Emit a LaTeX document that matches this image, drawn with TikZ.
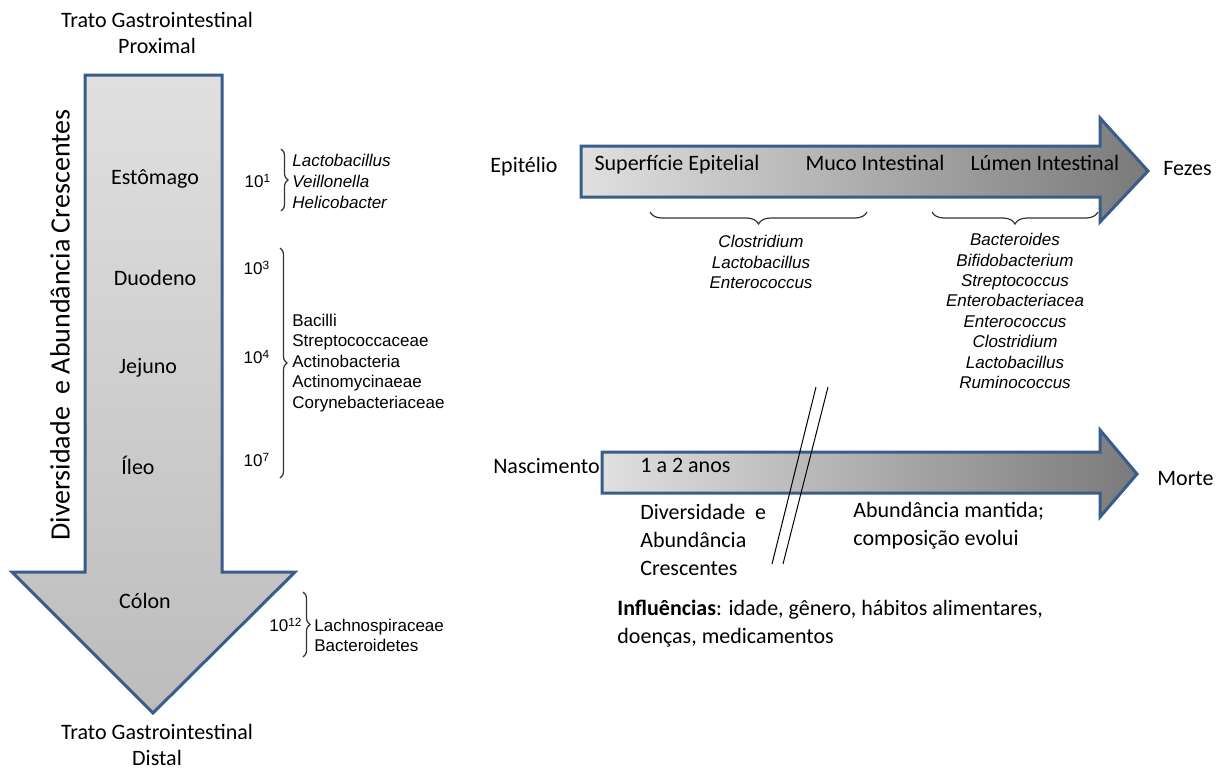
\documentclass[tikz,border=0pt]{standalone}
\usepackage{fontspec}
\setmainfont{Carlito}
\newfontfamily\taxfont{Liberation Sans}
\usetikzlibrary{decorations.pathreplacing, positioning}
\definecolor{arrowedge}{RGB}{56,93,138}
\definecolor{shadelight}{RGB}{224,224,224}
\definecolor{shademid}{RGB}{188,188,188}
\definecolor{shadedark}{RGB}{122,122,122}

\begin{document}
\begin{tikzpicture}[x=0.5pt, y=-0.5pt,
    txt/.style={font=\fontsize{11}{14}\selectfont, inner sep=0pt},
    taxon/.style={font=\taxfont\fontsize{8.5}{10.2}\selectfont\itshape, align=center, inner sep=0pt},
    group/.style={font=\taxfont\fontsize{8.5}{10.2}\selectfont, align=left, inner sep=0pt, anchor=west},
    power/.style={font=\taxfont\fontsize{8.5}{10}\selectfont, inner sep=0pt},
    bigarrow/.style={draw=arrowedge, line width=1.5pt},
    lbrace/.style={decorate, decoration={brace, amplitude=3.5pt}, line width=0.6pt, black!80},
    tbrace/.style={decorate, decoration={brace, amplitude=6pt}, line width=0.6pt, black!80},
    cut/.style={line width=0.5pt}
]
\useasboundingbox (0,0) rectangle (1227,771);

\draw[bigarrow, top color=shadelight, bottom color=shademid]
    (85,75) -- (222,75) -- (222,572) -- (295,572) -- (153,713) -- (12,572) -- (85,572) -- cycle;
\draw[bigarrow, left color=shadelight, right color=shadedark]
    (581,146) -- (1100,146) -- (1100,118) -- (1148,171) -- (1100,222) -- (1100,197) -- (581,197) -- cycle;
\draw[bigarrow, left color=shadelight, right color=shadedark]
    (602,452) -- (1100,452) -- (1100,430) -- (1137,474) -- (1100,517) -- (1100,493) -- (602,493) -- cycle;

\node[txt, align=center, font=\fontsize{11}{13}\selectfont] (proximal) at (157,33) {Trato Gastrointestinal\\Proximal};
\node[txt, align=center, font=\fontsize{11}{13}\selectfont] (distal) at (157,745) {Trato Gastrointestinal\\Distal};
\node[txt, font=\fontsize{14}{16}\selectfont, rotate=90] (crescentes) at (60,325) {Diversidade~ e Abundância Crescentes};

\node[txt, anchor=base] (estomago) at (155,184) {Estômago};
\node[txt, anchor=base] (duodeno) at (155,285) {Duodeno};
\node[txt, anchor=base] (jejuno) at (148,373) {Jejuno};
\node[txt, anchor=base] (ileo) at (138,474) {Íleo};
\node[txt, anchor=base] (colon) at (145,608) {Cólon};

\node[power] (p1) at (258,181) {10\textsuperscript{1}};
\node[power] (p3) at (257,268) {10\textsuperscript{3}};
\node[power] (p4) at (257,357) {10\textsuperscript{4}};
\node[power] (p7) at (257,460) {10\textsuperscript{7}};
\node[power] (p12) at (286,625) {10\textsuperscript{12}};

\coordinate (b1top) at (281,149);
\coordinate (b1bot) at (281,211);
\coordinate (b2top) at (280,248);
\coordinate (b2bot) at (280,478);
\coordinate (b3top) at (303,592);
\coordinate (b3bot) at (303,657);
\draw[lbrace] (b1top) -- (b1bot);
\draw[lbrace] (b2top) -- (b2bot);
\draw[lbrace] (b3top) -- (b3bot);

\node[group, font=\taxfont\fontsize{8.5}{10.5}\selectfont\itshape] (estomagotaxa) at (292,181)
    {Lactobacillus\\Veillonella\\Helicobacter};
\node[group, font=\taxfont\fontsize{8.5}{10.3}\selectfont] (delgadotaxa) at (292,363)
    {Bacilli\\Streptococcaceae\\Actinobacteria\\Actinomycinaeae\\Corynebacteriaceae};
\node[group, font=\taxfont\fontsize{8.5}{10}\selectfont] (colontaxa) at (314,635)
    {Lachnospiraceae\\Bacteroidetes};

\node[txt, anchor=base east] (epitelio) at (558,172) {Epitélio};
\node[txt, anchor=base] (superficie) at (677,170) {Superfície Epitelial};
\node[txt, anchor=base] (muco) at (875,170) {Muco Intestinal};
\node[txt, anchor=base] (lumen) at (1045,170) {Lúmen Intestinal};
\node[txt, anchor=base west] (fezes) at (1163,175) {Fezes};

\coordinate (b4left) at (650,212);
\coordinate (b4right) at (867,212);
\coordinate (b5left) at (932,212);
\coordinate (b5right) at (1098,212);
\draw[tbrace] (b4right) -- (b4left);
\draw[tbrace] (b5right) -- (b5left);

\node[taxon] (mucotaxa) at (761,262) {Clostridium\\Lactobacillus\\Enterococcus};
\node[taxon] (lumentaxa) at (1015,311)
    {Bacteroides\\Bifidobacterium\\Streptococcus\\Enterobacteriacea\\Enterococcus\\Clostridium\\Lactobacillus\\Ruminococcus};

\node[txt, anchor=base east] (nascimento) at (600,473) {Nascimento};
\node[txt, anchor=base west] (anos) at (640,472) {1 a 2 anos};
\node[txt, anchor=base west] (morte) at (1157,485) {Morte};

\node[txt, anchor=west, align=left] (infancia) at (640,540) {Diversidade~ e\\Abundância\\Crescentes};
\node[txt, anchor=west, align=left] (adulto) at (853,526) {Abundância mantida;\\composição evolui};
\node[txt, anchor=west, align=left] (influencias) at (617,624)
    {\textbf{Influências}: idade, gênero, hábitos alimentares,\\doenças, medicamentos};

\coordinate (cut1top) at (816,387);
\coordinate (cut1bot) at (772,564);
\coordinate (cut2top) at (828,387);
\coordinate (cut2bot) at (783,564);
\draw[cut] (cut1top) -- (cut1bot);
\draw[cut] (cut2top) -- (cut2bot);

\end{tikzpicture}
\end{document}
